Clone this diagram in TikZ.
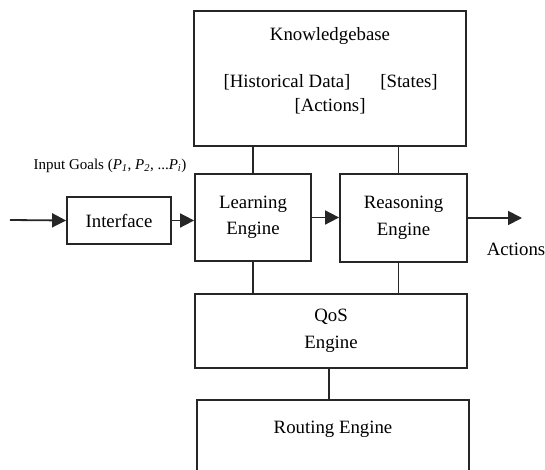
\documentclass[tikz,border=0pt]{standalone}
\usepackage{fontspec}
\setmainfont{Liberation Serif}
\usetikzlibrary{arrows.meta}

\begin{document}
\begin{tikzpicture}[x=1pt,y=-1pt,
  box/.style={draw=black!85, line width=1.8pt, inner sep=0pt, align=center, font=\fontsize{18.8}{26.5}\selectfont},
  txt/.style={inner sep=0pt, font=\fontsize{18.8}{26.5}\selectfont},
  link/.style={draw=black!85, line width=1.8pt},
  arr/.style={link, -{Triangle[length=14pt,width=14pt]}}]
\path[use as bounding box] (0,0) rectangle (545,470);
\clip (0,0) rectangle (545,470);
\node[box, anchor=north, minimum width=272pt, text height=29.5pt, text depth=105.5pt] (kb) at (330,10) {Knowledgebase};
\node[txt] (hist) at (287,82) {[Historical Data]};
\node[txt] (states) at (409,82) {[States]};
\node[txt] (acts) at (330,106) {[Actions]};
\node[box, minimum width=116pt, minimum height=87pt] (learn) at (253,217.5) {Learning\\Engine};
\node[box, minimum width=127pt, minimum height=88pt] (reason) at (403.5,218) {Reasoning\\Engine};
\node[box, minimum width=104pt, minimum height=47pt] (iface) at (119,220.5) {Interface};
\node[box, minimum width=272pt, minimum height=74pt] (qos) at (331,331) {QoS\\Engine};
\node[box, anchor=north, minimum width=272pt, text height=33.5pt, text depth=80pt] (route) at (333,399) {Routing Engine};
\node[txt, font=\fontsize{15}{18}\selectfont] (goals) at (110,166) {Input Goals (\textit{P\textsubscript{1}}, \textit{P\textsubscript{2}}, ...\textit{P\textsubscript{i}})};
\node[txt] (actlbl) at (516,249) {Actions};
\coordinate (in) at (10,220);
\coordinate (out) at (522,218);
\draw[arr] (in) -- (iface.west);
\draw[arr] (iface.east) -- (iface.east -| learn.west);
\draw[arr] (learn.east) -- (learn.east -| reason.west);
\draw[arr] (reason.east) -- (out);
\draw[link] (kb.south -| learn.north) -- (learn.north);
\draw[link] ([xshift=-5pt]reason.north) -- ([xshift=-5pt]reason.north |- kb.south);
\draw[link] (learn.south) -- (learn.south |- qos.north);
\draw[link] ([xshift=-5pt]reason.south) -- ([xshift=-5pt]reason.south |- qos.north);
\draw[link] ([xshift=-2pt]qos.south) -- ([xshift=-2pt]qos.south |- route.north);
\end{tikzpicture}
\end{document}
